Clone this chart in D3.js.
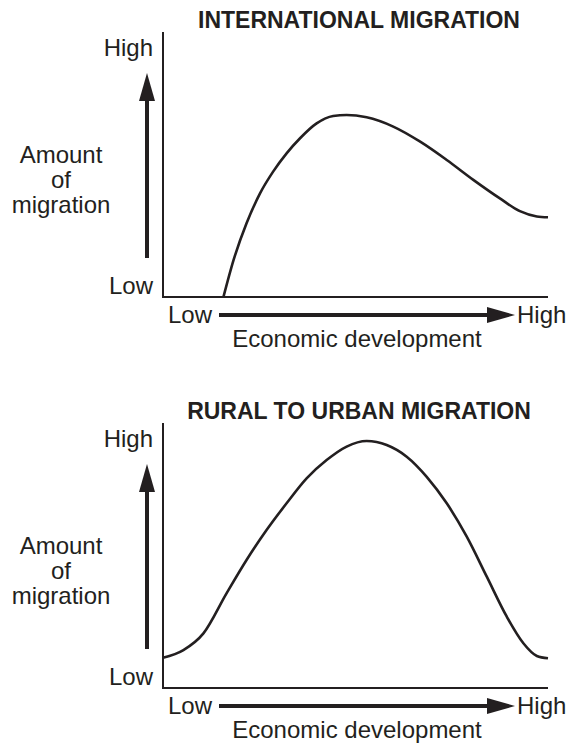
<!DOCTYPE html>
<html>
<head>
<meta charset="utf-8">
<script src="https://cdn.jsdelivr.net/npm/d3@7"></script>
<style>
  html, body { margin: 0; padding: 0; background: #fff; }
  svg { display: block; }
  text { font-family: "Liberation Sans", Arial, Helvetica, sans-serif; fill: #231f20; }
</style>
</head>
<body>
<svg id="chart" width="568" height="746"></svg>
<script>
// ---------- data ----------
const panelTitles = ["INTERNATIONAL MIGRATION", "RURAL TO URBAN MIGRATION"];
const yTickLabels = ["Low", "High"];
const xTickLabels = ["Low", "High"];
const yAxisTitle = ["Amount", "of", "migration"];
const xAxisTitle = "Economic development";

// International migration curve (x: economic development 0-100, y: amount 0-100)
const intlX = [15.7, 18.3, 21.7, 25.2, 28.6, 32.1, 35.6, 39.9, 44.2, 47.7, 52.9, 59.8, 66.8, 73.7, 80.6, 87.5, 92.7, 97.1, 100];
const intlY = [0, 13.8, 27.8, 39.1, 47.3, 54.2, 59.9, 65.5, 68.3, 68.7, 67.8, 64.3, 58.6, 51.7, 44.2, 37.2, 32.4, 30.4, 30.1];

// Rural to urban migration curve
const ruralX = [0, 5.3, 10.5, 16.5, 21.7, 26.9, 32.1, 37.3, 42.5, 47.7, 52.9, 58.1, 63.3, 68.5, 73.7, 78.9, 84.1, 89.3, 93.6, 97.1, 100];
const ruralY = [11.4, 14.3, 20.6, 35.7, 48.3, 59.6, 69.7, 79.1, 86.0, 91.1, 93.2, 91.7, 87.3, 79.7, 69.7, 57.1, 42.0, 26.9, 16.9, 12.1, 11.2];

// ---------- drawing ----------
const svg = d3.select("#chart");
const ink = "#231f20";

// arrowhead markers
const defs = svg.append("defs");
defs.append("marker")
  .attr("id", "arrow")
  .attr("viewBox", "0 0 28 16")
  .attr("refX", 0).attr("refY", 8)
  .attr("markerUnits", "userSpaceOnUse")
  .attr("markerWidth", 28).attr("markerHeight", 16)
  .attr("orient", "auto")
  .append("path")
  .attr("d", "M0,0 L28,8 L0,16 Z")
  .attr("fill", ink);

const panels = [
  { title: panelTitles[0], xs: intlX, ys: intlY, dy: 0 },
  { title: panelTitles[1], xs: ruralX, ys: ruralY, dy: 391 }
];

const left = 163, right = 548, top0 = 32, bottom0 = 297;

panels.forEach(p => {
  const g = svg.append("g").attr("transform", `translate(0,${p.dy})`);
  const x = d3.scaleLinear().domain([0, 100]).range([left, right]);
  const y = d3.scaleLinear().domain([0, 100]).range([bottom0, top0]);

  // title
  g.append("text")
    .attr("x", 359).attr("y", 28)
    .attr("text-anchor", "middle")
    .attr("font-weight", "bold")
    .attr("font-size", 23)
    .text(p.title);

  // axis frame (L shape)
  g.append("path")
    .attr("d", `M${x(0)},${y(100)} L${x(0)},${y(0)} L${x(100)},${y(0)}`)
    .attr("fill", "none")
    .attr("stroke", ink)
    .attr("stroke-width", 2);

  // y tick labels via d3 axis
  const yAxis = d3.axisLeft(y)
    .tickValues([4.3, 94.2])
    .tickFormat((d, i) => yTickLabels[i])
    .tickSize(0)
    .tickPadding(10);
  const ya = g.append("g").attr("transform", `translate(${x(0)},0)`).call(yAxis);
  ya.select(".domain").remove();
  ya.selectAll("text")
    .attr("font-size", 24)
    .attr("font-family", "Liberation Sans, Arial, sans-serif")
    .attr("fill", ink);

  // vertical arrow
  g.append("line")
    .attr("x1", 147).attr("x2", 147)
    .attr("y1", 258).attr("y2", 101)
    .attr("stroke", ink).attr("stroke-width", 4)
    .attr("marker-end", "url(#arrow)");

  // y axis title
  const yt = g.append("text")
    .attr("text-anchor", "middle")
    .attr("font-size", 24);
  yAxisTitle.forEach((t, i) => {
    yt.append("tspan").attr("x", 61).attr("y", 162.7 + i * 25).text(t);
  });

  // horizontal arrow
  g.append("line")
    .attr("x1", 219).attr("x2", 487)
    .attr("y1", 315).attr("y2", 315)
    .attr("stroke", ink).attr("stroke-width", 4)
    .attr("marker-end", "url(#arrow)");

  // x tick labels
  g.append("text")
    .attr("x", 212).attr("y", 323.3)
    .attr("text-anchor", "end")
    .attr("font-size", 24)
    .text(xTickLabels[0]);
  g.append("text")
    .attr("x", 517).attr("y", 323.3)
    .attr("text-anchor", "start")
    .attr("font-size", 24)
    .text(xTickLabels[1]);

  // x axis title
  g.append("text")
    .attr("x", 357).attr("y", 347)
    .attr("text-anchor", "middle")
    .attr("font-size", 24)
    .text(xAxisTitle);

  // curve
  const pts = p.xs.map((v, i) => [v, p.ys[i]]);
  const line = d3.line()
    .x(d => x(d[0]))
    .y(d => y(d[1]))
    .curve(d3.curveMonotoneX);
  g.append("path")
    .datum(pts)
    .attr("d", line)
    .attr("fill", "none")
    .attr("stroke", ink)
    .attr("stroke-width", 2.6)
    .attr("stroke-linejoin", "round");
});
</script>
</body>
</html>
